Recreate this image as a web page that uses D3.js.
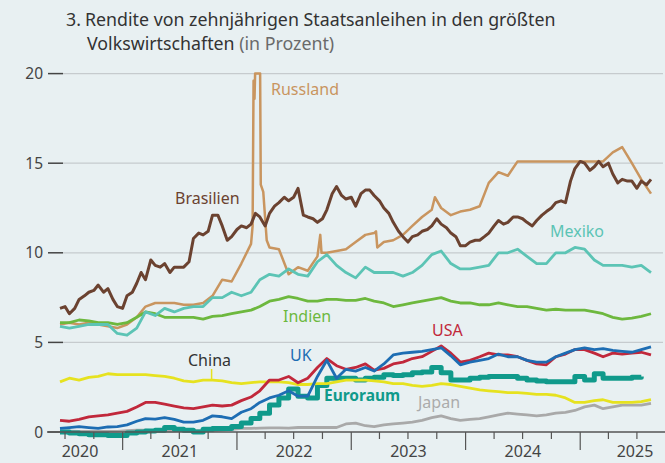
<!DOCTYPE html>
<html>
<head>
<meta charset="utf-8">
<script src="https://cdn.jsdelivr.net/npm/d3@7"></script>
<style>
  body { margin: 0; background: #e8f0f2; }
  svg { display: block; font-family: "Noto Sans", sans-serif; }
</style>
</head>
<body>
<svg id="chart" width="665" height="463"></svg>
<script>
// monthly readings (mid-month), June 2020 .. August 2025
var firstMonth = new Date(2020, 5, 15);

var russland = [6.0, 6.1, 6.0, 6.1, 6.0, 5.9, 5.8, 6.0, 6.4, 7.0,
  7.2, 7.2, 7.2, 7.1, 7.1, 7.2, 7.6, 8.5, 8.4, 9.4,
  10.5, 20.0, 10.3, 10.2, 8.8, 9.2, 9.0, 9.8, 10.0, 10.1,
  10.2, 10.6, 11.0, 11.1, 10.6, 10.7, 11.0, 11.5, 12.0, 12.4,
  12.5, 12.1, 12.3, 12.4, 12.6, 13.9, 14.5, 14.3, 15.1, 15.1,
  15.1, 15.1, 15.1, 15.1, 15.1, 15.1, 15.1, 15.1, 15.6, 15.9,
  15.0, 14.1, 13.3];
// extra daily readings around the jumps of the rouble bond
var russlandExtraDates = ["2022-02-20", "2022-02-23", "2022-02-26", "2022-02-28", "2022-03-16", "2022-03-18",
  "2022-03-26", "2022-04-06", "2022-09-24", "2022-09-28", "2023-03-21", "2023-03-25", "2023-09-25"];
var russlandExtraValues = [11.5, 19.6, 18.6, 20.0, 20.0, 13.8,
  13.4, 10.7, 11.0, 10.0, 11.2, 10.3, 13.1];

// Brasilien read twice a month (15th and 1st)
var brasilien = [6.9, 7.0, 6.6, 6.9, 7.4, 7.6, 7.8, 7.9, 8.2, 7.8,
  8.0, 7.4, 7.0, 6.9, 7.6, 7.8, 8.3, 8.9, 8.5, 9.6,
  9.3, 9.2, 9.4, 8.9, 9.2, 9.2, 9.2, 9.5, 10.8, 11.1,
  11.0, 11.2, 12.1, 12.1, 11.5, 10.7, 10.9, 11.3, 11.5, 11.4,
  11.6, 12.2, 12.0, 11.5, 12.2, 12.6, 12.8, 13.1, 12.9, 13.1,
  13.6, 12.1, 12.0, 11.9, 11.7, 11.9, 12.4, 13.3, 13.7, 13.2,
  13.0, 13.1, 12.6, 13.3, 13.5, 13.5, 13.2, 12.9, 12.5, 12.2,
  11.7, 11.2, 10.9, 10.6, 10.9, 11.0, 11.2, 11.3, 11.5, 11.9,
  11.6, 11.4, 11.1, 10.9, 10.4, 10.4, 10.6, 10.7, 10.7, 10.9,
  11.1, 11.5, 11.8, 11.6, 11.7, 12.0, 12.0, 11.9, 11.7, 11.5,
  11.8, 12.1, 12.3, 12.5, 12.8, 12.9, 12.8, 14.0, 14.7, 15.1,
  15.0, 14.6, 14.8, 15.1, 14.8, 15.0, 14.4, 13.9, 14.1, 14.0,
  14.0, 13.6, 14.0, 13.8, 14.1];

var mexiko = [5.9, 5.8, 5.9, 6.0, 6.0, 6.0, 5.5, 5.4, 5.8, 6.7,
  6.5, 6.9, 6.7, 6.9, 7.0, 7.0, 7.5, 7.5, 7.8, 7.6,
  7.8, 8.5, 8.8, 8.7, 9.1, 8.8, 8.7, 9.5, 9.9, 9.3,
  8.9, 8.6, 9.2, 8.9, 8.9, 8.9, 8.7, 8.9, 9.3, 9.9,
  10.1, 9.4, 9.1, 9.1, 9.2, 9.3, 10.0, 10.0, 10.2, 9.8,
  9.4, 9.4, 10.0, 10.0, 10.3, 10.2, 9.6, 9.3, 9.3, 9.3,
  9.2, 9.3, 8.9];

var indien = [6.1, 6.1, 6.25, 6.2, 6.1, 6.1, 6.0, 6.1, 6.4, 6.7,
  6.6, 6.4, 6.4, 6.4, 6.4, 6.3, 6.45, 6.5, 6.6, 6.7,
  6.8, 7.0, 7.3, 7.4, 7.55, 7.45, 7.3, 7.3, 7.4, 7.4,
  7.35, 7.35, 7.45, 7.3, 7.2, 7.0, 7.1, 7.2, 7.3, 7.4,
  7.5, 7.3, 7.2, 7.2, 7.1, 7.1, 7.2, 7.1, 7.0, 7.0,
  6.9, 6.8, 6.85, 6.8, 6.8, 6.8, 6.7, 6.6, 6.4, 6.3,
  6.35, 6.45, 6.6];

var usa = [0.65, 0.6, 0.7, 0.84, 0.9, 0.95, 1.05, 1.15, 1.4, 1.65,
  1.65, 1.55, 1.45, 1.35, 1.3, 1.4, 1.5, 1.45, 1.5, 1.75,
  1.95, 2.3, 2.9, 2.9, 3.1, 2.75, 3.0, 3.6, 4.1, 3.7,
  3.5, 3.6, 3.8, 3.45, 3.55, 3.8, 3.9, 4.1, 4.2, 4.5,
  4.8, 4.4, 3.9, 4.0, 4.2, 4.4, 4.3, 4.3, 4.2, 4.0,
  3.8, 3.75, 4.2, 4.35, 4.6, 4.6, 4.4, 4.2, 4.4, 4.35,
  4.4, 4.45, 4.3];

var uk = [0.2, 0.25, 0.3, 0.25, 0.2, 0.28, 0.3, 0.4, 0.6, 0.75,
  0.72, 0.8, 0.7, 0.55, 0.55, 0.65, 0.9, 0.85, 0.75, 1.1,
  1.3, 1.65, 1.9, 2.05, 2.3, 2.0, 2.0, 3.1, 4.0, 3.0,
  3.5, 3.4, 3.6, 3.4, 3.8, 4.3, 4.4, 4.45, 4.5, 4.6,
  4.7, 4.25, 3.75, 3.9, 4.0, 4.1, 4.35, 4.2, 4.2, 4.0,
  3.9, 3.9, 4.2, 4.4, 4.6, 4.7, 4.6, 4.65, 4.55, 4.5,
  4.45, 4.6, 4.75];

var euroraum = [0.0, -0.05, -0.1, -0.15, -0.15, -0.2, -0.2, -0.05, 0.0, 0.05,
  0.1, 0.25, 0.15, 0.1, 0.0, 0.15, 0.2, 0.2, 0.3, 0.5,
  0.75, 1.05, 1.5, 1.9, 2.4, 2.0, 1.9, 2.6, 3.0, 3.0,
  3.0, 2.9, 3.0, 3.05, 3.2, 3.15, 3.2, 3.3, 3.35, 3.6,
  3.3, 2.9, 2.9, 3.0, 3.05, 3.1, 3.1, 3.1, 3.0, 2.9,
  2.85, 2.8, 2.8, 2.8, 3.1, 2.9, 3.25, 3.0, 3.0, 3.0,
  3.05, 3.1, null];

var china = [2.8, 3.0, 2.9, 3.05, 3.1, 3.25, 3.2, 3.2, 3.2, 3.2,
  3.15, 3.1, 3.0, 2.85, 2.8, 2.9, 2.9, 2.85, 2.75, 2.7,
  2.75, 2.8, 2.8, 2.8, 2.75, 2.65, 2.65, 2.7, 2.7, 2.8,
  2.9, 2.9, 2.9, 2.85, 2.8, 2.7, 2.7, 2.6, 2.55, 2.6,
  2.7, 2.65, 2.55, 2.45, 2.35, 2.3, 2.25, 2.2, 2.2, 2.15,
  2.1, 2.1, 2.05, 1.9, 1.65, 1.65, 1.75, 1.8, 1.65, 1.65,
  1.65, 1.7, 1.8];

var japan = [0.05, 0.05, 0.03, 0.03, 0.03, 0.03, 0.03, 0.08, 0.1, 0.1,
  0.08, 0.05, 0.05, 0.1, 0.08, 0.07, 0.07, 0.1, 0.15, 0.2,
  0.2, 0.22, 0.23, 0.23, 0.22, 0.25, 0.25, 0.25, 0.25, 0.25,
  0.45, 0.5, 0.35, 0.3, 0.4, 0.45, 0.5, 0.55, 0.65, 0.8,
  0.9, 0.75, 0.65, 0.7, 0.75, 0.85, 0.95, 1.05, 1.0, 0.95,
  0.9, 0.95, 1.05, 1.1, 1.2, 1.4, 1.5, 1.3, 1.4, 1.5,
  1.5, 1.5, 1.6];

var yTicks = [0, 5, 10, 15, 20];
var years = [2020, 2021, 2022, 2023, 2024, 2025];

var svg = d3.select("#chart");

var x = d3.scaleTime()
  .domain([new Date(2020, 5, 15), new Date(2025, 7, 15)])
  .range([60, 651]);
var y = d3.scaleLinear()
  .domain([0, 20])
  .range([432, 73.6]);

var axisLeft = 47, axisRight = 665;

// title
var title = svg.append("g").attr("fill", "#333").style("font-size", "17.8px");
title.append("text").attr("x", 66).attr("y", 26).text("3.");
title.append("text").attr("x", 85).attr("y", 26).text("Rendite von zehnjährigen Staatsanleihen in den größten");
var t2 = title.append("text").attr("x", 87).attr("y", 50).text("Volkswirtschaften");
t2.append("tspan").attr("fill", "#6a6a6a").text(" (in Prozent)");

// gridlines + y ticks
svg.append("g").selectAll("line")
  .data(yTicks.filter(function (d) { return d > 0; }))
  .enter().append("line")
  .attr("x1", 63).attr("x2", 663)
  .attr("y1", function (d) { return y(d); })
  .attr("y2", function (d) { return y(d); })
  .attr("stroke", "#c6cbce")
  .attr("stroke-width", 1.3);

svg.append("g").selectAll("line")
  .data(yTicks)
  .enter().append("line")
  .attr("x1", 48).attr("x2", 63)
  .attr("y1", function (d) { return y(d); })
  .attr("y2", function (d) { return y(d); })
  .attr("stroke", "#444")
  .attr("stroke-width", 1.5);

svg.append("g").selectAll("text")
  .data(yTicks)
  .enter().append("text")
  .attr("x", 43)
  .attr("y", function (d) { return y(d); })
  .attr("dy", "0.36em")
  .attr("text-anchor", "end")
  .attr("fill", "#444")
  .style("font-size", "15.5px")
  .text(function (d) { return d; });

// series
function toPoints(values) {
  return values.map(function (v, i) {
    return {date: new Date(firstMonth.getFullYear(), firstMonth.getMonth() + i, 15), value: v};
  });
}
function toHalfMonthPoints(values) {
  return values.map(function (v, i) {
    var m = firstMonth.getMonth() + Math.ceil(i / 2);
    return {date: new Date(firstMonth.getFullYear(), m, i % 2 ? 1 : 15), value: v};
  });
}

var parse = d3.timeParse("%Y-%m-%d");
var russlandPoints = toPoints(russland).concat(russlandExtraDates.map(function (d, i) {
  return {date: parse(d), value: russlandExtraValues[i]};
})).sort(function (a, b) { return a.date - b.date; });

var series = [
  {name: "Russland", points: russlandPoints, color: "#c9955f", width: 2.5},
  {name: "Indien", points: toPoints(indien), color: "#6db83e", width: 2.8},
  {name: "Mexiko", points: toPoints(mexiko), color: "#5cc4b5", width: 2.8},
  {name: "Brasilien", points: toHalfMonthPoints(brasilien), color: "#6b4230", width: 3},
  {name: "Japan", points: toPoints(japan), color: "#a9a9a9", width: 2.8},
  {name: "Euroraum", points: toPoints(euroraum), color: "#109a8b", width: 5, step: true},
  {name: "China", points: toPoints(china), color: "#e6e21f", width: 2.8},
  {name: "USA", points: toPoints(usa), color: "#c1283b", width: 2.8},
  {name: "UK", points: toPoints(uk), color: "#1d6db3", width: 2.8}
];

var line = d3.line()
  .defined(function (d) { return d.value != null; })
  .x(function (d) { return x(d.date); })
  .y(function (d) { return y(d.value); });

svg.append("g").selectAll("path")
  .data(series)
  .enter().append("path")
  .attr("fill", "none")
  .attr("stroke", function (d) { return d.color; })
  .attr("stroke-width", function (d) { return d.width; })
  .attr("stroke-linejoin", "round")
  .attr("d", function (d) {
    return line.curve(d.step ? d3.curveStepAfter : d3.curveLinear)(d.points);
  });

// x axis
svg.append("line")
  .attr("x1", axisLeft).attr("x2", axisRight)
  .attr("y1", y(0)).attr("y2", y(0))
  .attr("stroke", "#555").attr("stroke-width", 1.5);

var quarters = d3.timeMonth.every(3).range(new Date(2020, 6, 1), new Date(2025, 9, 2));
svg.append("g").selectAll("line")
  .data(quarters)
  .enter().append("line")
  .attr("x1", function (d) { return x(d); })
  .attr("x2", function (d) { return x(d); })
  .attr("y1", y(0))
  .attr("y2", function (d) { return y(0) + (d.getMonth() === 0 ? 18 : 7); })
  .attr("stroke", "#555")
  .attr("stroke-width", 1.2);

svg.append("g").selectAll("text")
  .data(years)
  .enter().append("text")
  .attr("x", function (d) {
    var mid = (x(new Date(d, 0, 1)) + x(new Date(d + 1, 0, 1))) / 2;
    return Math.max(axisLeft + 33, Math.min(axisRight - 30, mid));
  })
  .attr("y", 457)
  .attr("text-anchor", "middle")
  .attr("fill", "#444")
  .style("font-size", "16px")
  .text(function (d) { return d; });

// labels
var labels = [
  {text: "Russland", x: 271, y: 95, color: "#c9955f"},
  {text: "Brasilien", x: 175, y: 204, color: "#6b4230"},
  {text: "Mexiko", x: 550, y: 237, color: "#5cc4b5"},
  {text: "Indien", x: 283, y: 322, color: "#6db83e"},
  {text: "USA", x: 432, y: 336, color: "#c1283b"},
  {text: "China", x: 188, y: 366, color: "#333"},
  {text: "UK", x: 290, y: 361, color: "#1d6db3"},
  {text: "Euroraum", x: 324, y: 401, color: "#109a8b", bold: true},
  {text: "Japan", x: 418, y: 408, color: "#ababab"}
];
svg.append("g").selectAll("text")
  .data(labels)
  .enter().append("text")
  .attr("x", function (d) { return d.x; })
  .attr("y", function (d) { return d.y; })
  .attr("fill", function (d) { return d.color; })
  .style("font-size", function (d) { return d.bold ? "15.5px" : "16px"; })
  .style("font-weight", function (d) { return d.bold ? "bold" : "normal"; })
  .text(function (d) { return d.text; });

// leader from "China" to its line
var chinaAt = new Date(2021, 9, 12);
svg.append("line")
  .attr("x1", x(chinaAt)).attr("x2", x(chinaAt))
  .attr("y1", 369).attr("y2", y(2.9))
  .attr("stroke", "#e6e21f").attr("stroke-width", 1.5);
</script>
</body>
</html>
